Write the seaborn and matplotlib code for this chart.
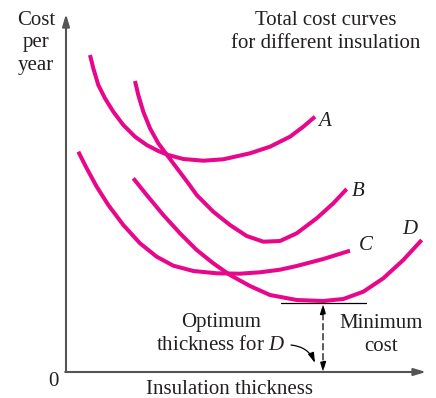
import matplotlib
matplotlib.use("Agg")
import matplotlib.pyplot as plt
import seaborn as sns
import pandas as pd

sns.set_theme(style="white")
plt.rcParams["font.family"] = ["Liberation Serif", "DejaVu Serif"]
plt.rcParams["mathtext.fontset"] = "custom"
plt.rcParams["mathtext.it"] = "Liberation Serif:italic"
plt.rcParams["mathtext.rm"] = "Liberation Serif"

# Total cost curves (insulation thickness vs. cost per year), arbitrary units
a_thickness = [2.40, 2.73, 3.23, 3.90, 4.73, 5.73, 6.90, 8.07, 9.23, 10.23, 11.73,
               13.73, 15.73, 18.40, 20.40, 22.40, 23.73, 24.90]
a_cost = [31.70, 30.37, 28.70, 27.37, 26.03, 24.70, 23.53, 22.70, 22.10, 21.70, 21.30,
          21.13, 21.27, 21.87, 22.53, 23.53, 24.53, 25.53]

b_thickness = [6.90, 7.23, 7.73, 8.40, 9.23, 10.23, 11.23, 12.23, 13.07, 14.73, 16.40,
               18.07, 19.73, 21.40, 23.07, 25.07, 26.73, 28.07]
b_cost = [29.10, 27.70, 26.03, 24.37, 22.87, 21.53, 20.20, 18.87, 17.70, 16.03, 14.70,
          13.60, 13.03, 13.10, 13.87, 15.37, 16.87, 18.30]

c_thickness = [1.23, 2.07, 3.07, 4.23, 5.73, 7.40, 9.07, 10.73, 12.73, 15.07, 17.40,
               19.40, 21.40, 23.07, 25.73, 28.40]
c_cost = [22.03, 20.37, 18.53, 16.70, 14.70, 12.87, 11.53, 10.63, 10.10, 9.87, 9.83,
          9.97, 10.23, 10.60, 11.30, 12.13]

d_thickness = [6.73, 8.07, 9.73, 11.40, 13.07, 14.73, 16.40, 18.40, 20.40, 23.07, 25.73,
               27.73, 29.73, 31.73, 33.73, 35.57]
d_cost = [19.37, 17.70, 15.70, 13.87, 12.20, 10.87, 9.70, 8.60, 7.70, 7.20, 7.10,
          7.30, 8.03, 9.37, 11.20, 13.20]

curve_names = ["A", "B", "C", "D"]
optimum_thickness_d = 25.7
minimum_cost_d = 6.9

frames = []
for name, xs, ys in zip(curve_names,
                        [a_thickness, b_thickness, c_thickness, d_thickness],
                        [a_cost, b_cost, c_cost, d_cost]):
    frames.append(pd.DataFrame({"thickness": xs, "cost": ys, "curve": name}))
df = pd.concat(frames, ignore_index=True)

magenta = "#E8078A"
axis_grey = "#555555"
text_color = "#231F20"

fig = plt.figure(figsize=(4.36, 3.98), dpi=100)
ax = fig.add_axes([0, 0, 1, 1])

sns.lineplot(data=df, x="thickness", y="cost", units="curve", estimator=None,
             sort=False, color=magenta, linewidth=2.9, ax=ax, legend=False,
             solid_capstyle="butt", solid_joinstyle="round")

ax.set_xlim(-6.6, 37.0)
ax.set_ylim(-2.6, 37.2)
ax.axis("off")

# Axes with arrowheads
ax.annotate("", xy=(0, 35.8), xytext=(0, 0),
            arrowprops=dict(arrowstyle="-|>,head_length=0.6,head_width=0.18",
                            color=axis_grey, lw=1.5, shrinkA=0, shrinkB=0))
ax.annotate("", xy=(36.0, 0), xytext=(-0.08, 0),
            arrowprops=dict(arrowstyle="-|>,head_length=0.6,head_width=0.18",
                            color=axis_grey, lw=1.5, shrinkA=0, shrinkB=0))

fs = 15
ax.text(-1.3, -1.0, "0", fontsize=fs, ha="center", va="center", color=text_color)
ax.text(16.3, -1.7, "Insulation thickness", fontsize=fs, ha="center", va="center",
        color=text_color)
ax.text(-3.0, 32.9, "Cost\nper\nyear", fontsize=fs, ha="center", va="center",
        linespacing=1.28, color=text_color)
ax.text(26.0, 34.0, "Total cost curves\nfor different insulation", fontsize=fs,
        ha="center", va="center", linespacing=1.3, color=text_color)

# Curve labels at the right-hand ends
label_pos = {"A": (25.9, 25.1), "B": (29.2, 18.0), "C": (30.0, 12.7), "D": (34.4, 14.2)}
for name in curve_names:
    x, y = label_pos[name]
    ax.text(x, y, name, fontsize=fs, fontstyle="italic", ha="center", va="center",
            color=text_color)

# Minimum cost marker for curve D
ax.plot([21.5, 30.0], [minimum_cost_d, minimum_cost_d], color="black", lw=0.9)
ax.annotate("", xy=(optimum_thickness_d, minimum_cost_d - 0.1),
            xytext=(optimum_thickness_d, 0),
            arrowprops=dict(arrowstyle="<|-|>,head_length=0.5,head_width=0.15",
                            color="black", lw=0.9, linestyle=(0, (5, 3)),
                            shrinkA=0, shrinkB=0))
ax.annotate("", xy=(24.9, 0.9), xytext=(22.5, 2.7),
            arrowprops=dict(arrowstyle="-|>,head_length=0.5,head_width=0.15",
                            color="black", lw=0.9, shrinkA=0, shrinkB=0,
                            connectionstyle="arc3,rad=-0.3"))

ax.text(15.5, 3.8, "Optimum\nthickness for $D$", fontsize=fs, ha="center", va="center",
        linespacing=1.3, color=text_color)
ax.text(31.5, 3.7, "Minimum\ncost", fontsize=fs, ha="center", va="center",
        linespacing=1.3, color=text_color)

fig.savefig("out.png", dpi=100)
